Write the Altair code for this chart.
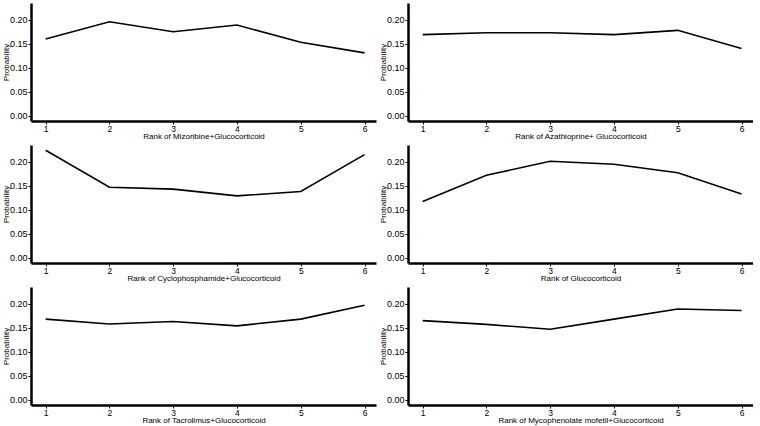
import altair as alt
import pandas as pd

ranks = [1, 2, 3, 4, 5, 6]
titles = [
    "Rank of Mizoribine+Glucocorticoid",
    "Rank of Azathioprine+ Glucocorticoid",
    "Rank of Cyclophosphamide+Glucocorticoid",
    "Rank of Glucocorticoid",
    "Rank of Tacrolimus+Glucocorticoid",
    "Rank of Mycophenolate mofetil+Glucocorticoid",
]
mizoribine = [0.160, 0.196, 0.175, 0.189, 0.153, 0.131]
azathioprine = [0.169, 0.173, 0.173, 0.169, 0.178, 0.140]
cyclophosphamide = [0.224, 0.147, 0.143, 0.129, 0.138, 0.215]
glucocorticoid = [0.117, 0.172, 0.201, 0.195, 0.177, 0.133]
tacrolimus = [0.168, 0.158, 0.163, 0.154, 0.168, 0.197]
mycophenolate = [0.165, 0.157, 0.147, 0.168, 0.189, 0.186]
series = [mizoribine, azathioprine, cyclophosphamide, glucocorticoid, tacrolimus, mycophenolate]
y_ticks = [0.0, 0.05, 0.10, 0.15, 0.20]

FONT = "Liberation Sans"
W, H = 345, 118


def panel(vals, title):
    df = pd.DataFrame({"rank": ranks, "p": vals})
    return alt.Chart(df).mark_line(color="black", strokeWidth=1.6).encode(
        x=alt.X("rank:Q", title=title,
                scale=alt.Scale(domain=[0.77, 6.18], nice=False, zero=False),
                axis=alt.Axis(values=ranks, format="d", grid=False,
                              domainColor="black", domainWidth=2.5,
                              tickColor="black", tickSize=3, labelPadding=0,
                              labelFont=FONT, labelFontSize=8.5, labelColor="black",
                              titleFont=FONT, titleFontSize=8, titleFontWeight="normal",
                              titleColor="black", titlePadding=0)),
        y=alt.Y("p:Q", title="Probability",
                scale=alt.Scale(domain=[-0.011, 0.235], nice=False, zero=False),
                axis=alt.Axis(values=y_ticks, format=".2f", grid=False,
                              domainColor="black", domainWidth=2.5,
                              tickColor="black", tickSize=3, labelPadding=1,
                              labelFont=FONT, labelFontSize=9, labelColor="black",
                              titleFont=FONT, titleFontSize=8, titleFontWeight="normal",
                              titleColor="black", titlePadding=-1)),
    ).properties(width=W, height=H)


charts = [panel(v, t) for v, t in zip(series, titles)]
rows = [alt.hconcat(charts[i], charts[i + 1], spacing=3) for i in (0, 2, 4)]
chart = alt.vconcat(*rows, spacing=4).properties(
    padding={"left": 2, "top": 3, "right": 0, "bottom": 0},
    background="white",
).configure_view(stroke=None)

chart.save("out.html", embed_options={"renderer": "svg", "actions": False})
